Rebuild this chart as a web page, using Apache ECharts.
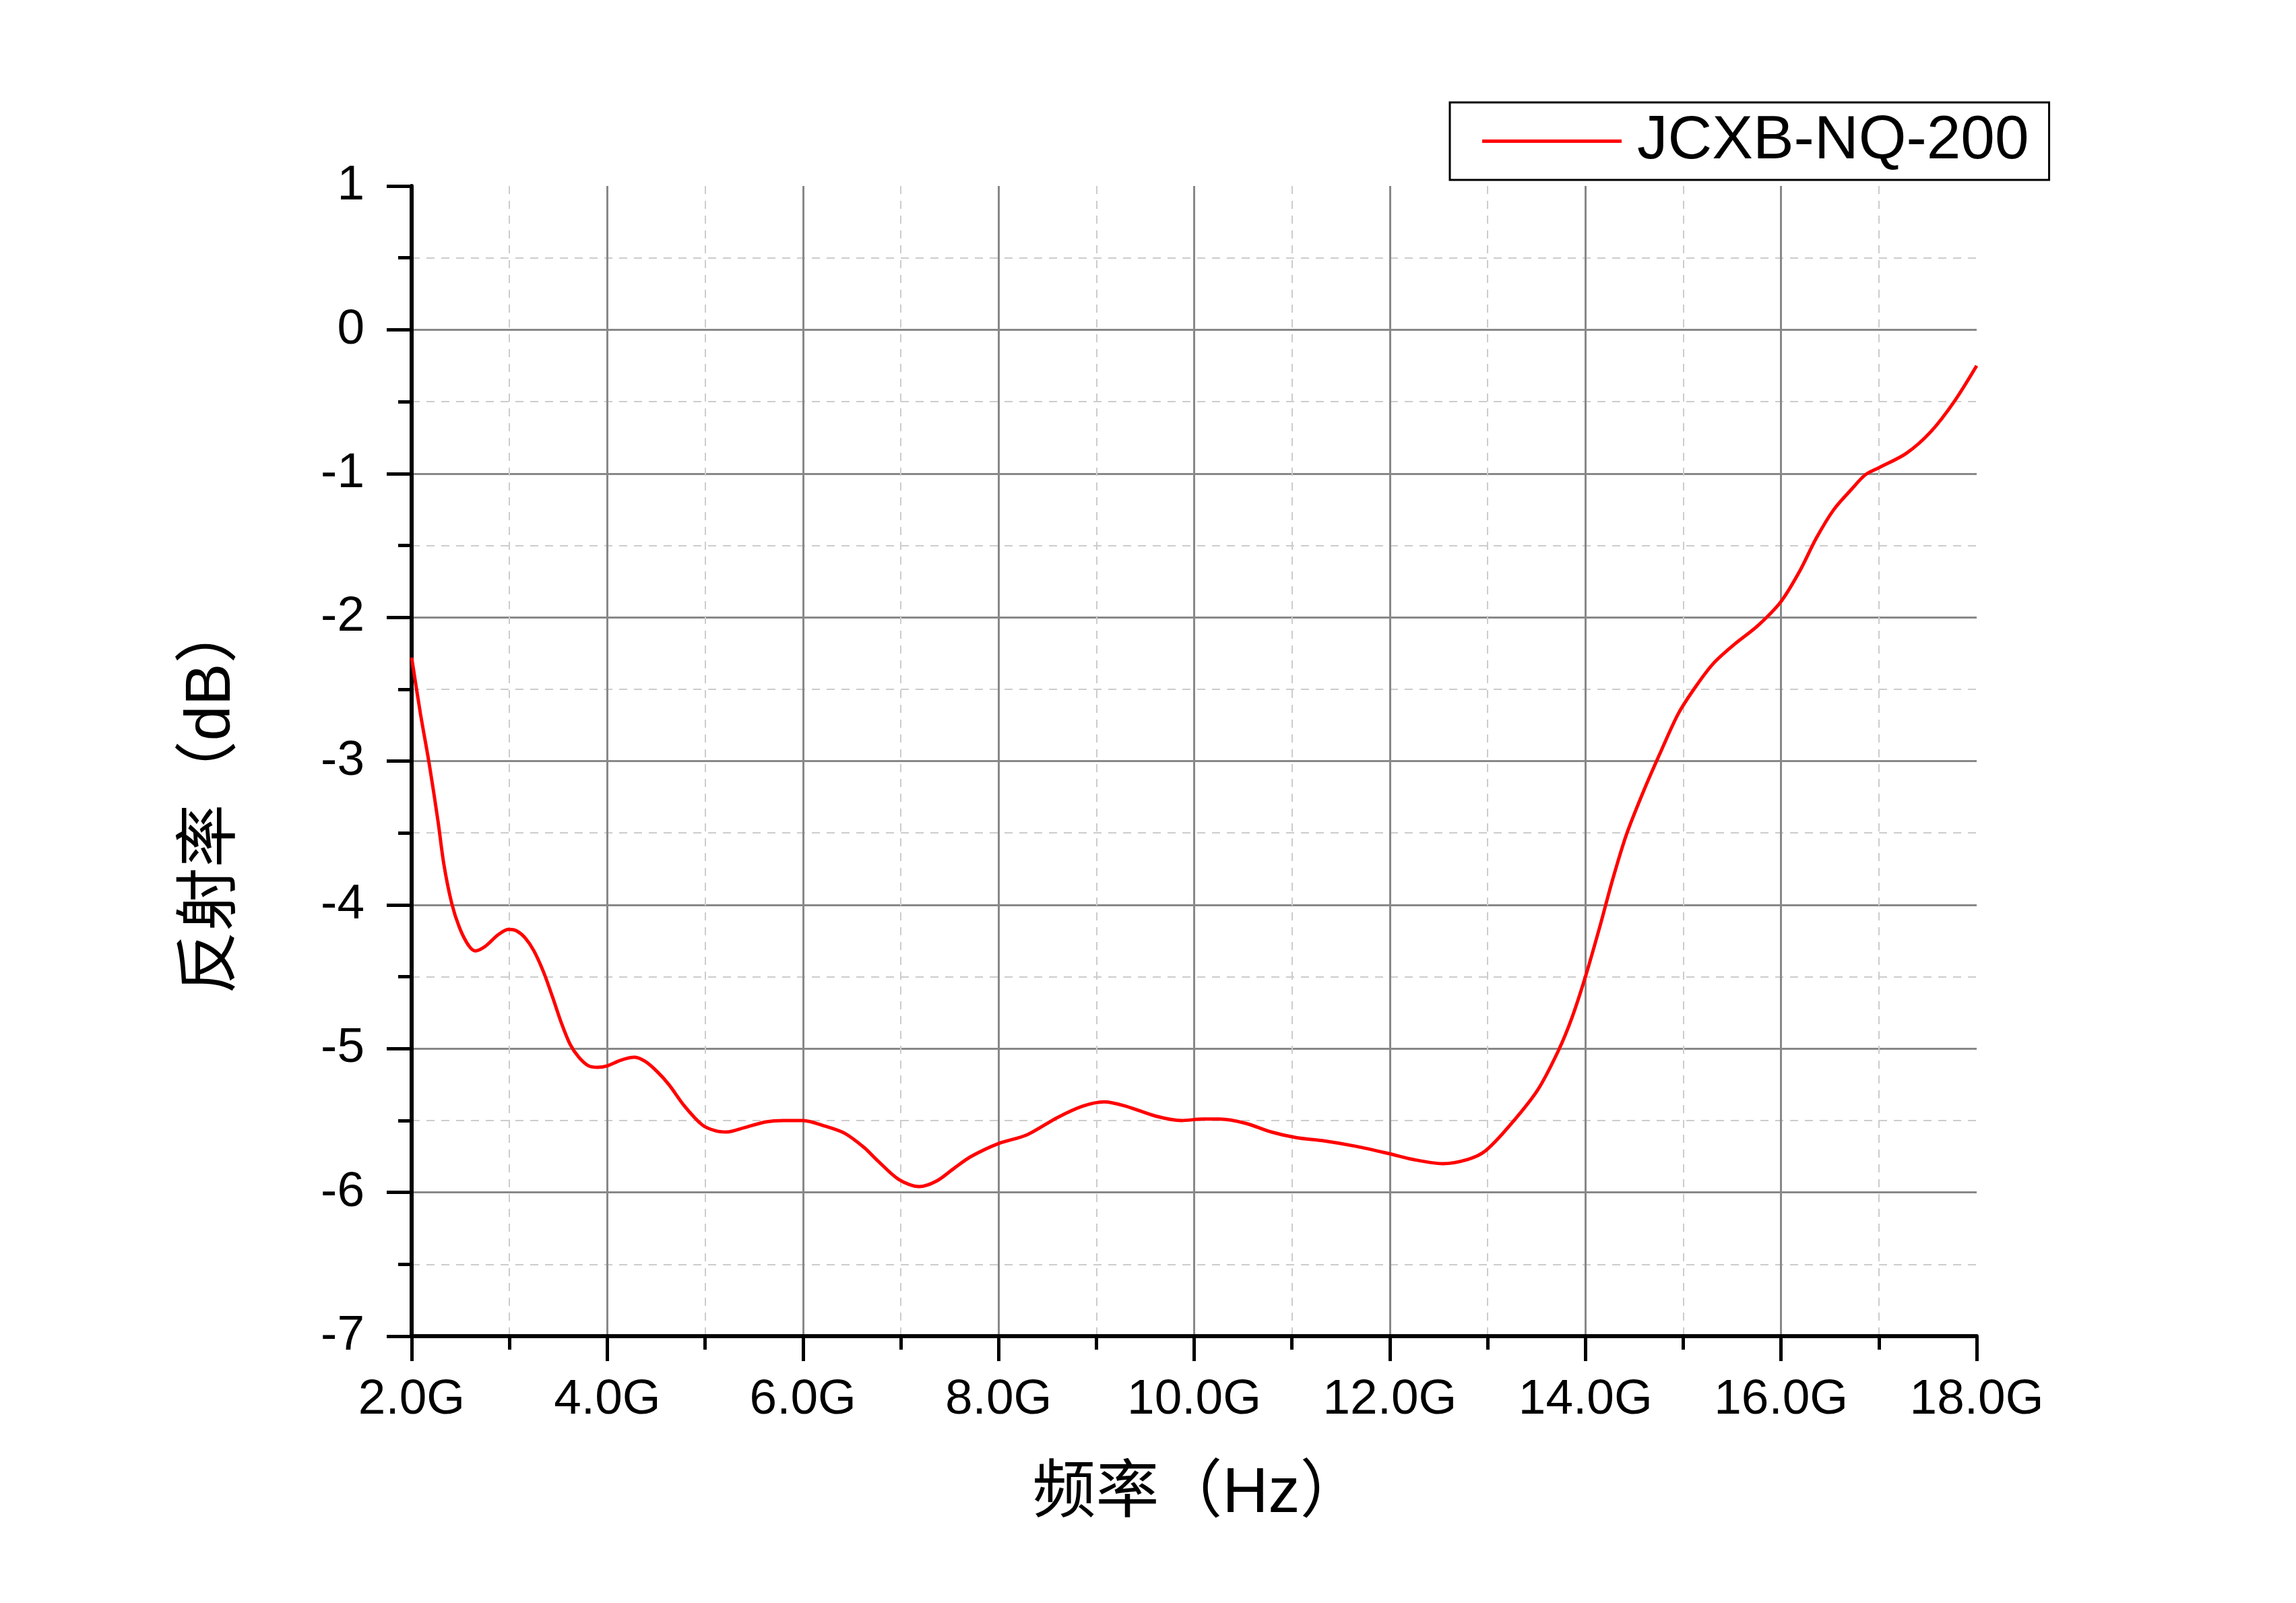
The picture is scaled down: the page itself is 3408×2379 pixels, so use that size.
<!DOCTYPE html>
<html>
<head>
<meta charset="utf-8">
<script src="https://cdn.jsdelivr.net/npm/echarts@6/dist/echarts.min.js"></script>
<style>
html,body{margin:0;padding:0;background:#fff;}
#chart{width:3408px;height:2379px;}
</style>
</head>
<body>
<div id="chart"></div>
<script>
// Frequency (GHz)
const freq = [2.00,2.09,2.18,2.27,2.33,2.41,2.49,2.58,2.65,2.75,2.88,2.99,3.07,3.16,3.25,3.35,3.44,3.53,3.62,3.71,3.81,3.90,4.00,4.14,4.28,4.39,4.51,4.63,4.79,4.97,5.10,5.22,5.40,5.62,5.80,6.00,6.23,6.43,6.63,6.75,6.98,7.19,7.37,7.55,7.72,8.00,8.29,8.60,8.86,9.08,9.30,9.61,9.87,10.09,10.26,10.53,10.79,11.05,11.31,11.66,11.99,12.23,12.54,12.80,12.98,13.22,13.51,13.72,13.86,14.00,14.14,14.28,14.42,14.60,14.78,14.95,15.13,15.31,15.52,15.76,16.00,16.19,16.36,16.54,16.72,16.86,17.00,17.28,17.53,17.77,18.00];
// Reflectivity (dB)
const refl = [-2.28,-2.67,-3.02,-3.42,-3.72,-3.99,-4.16,-4.28,-4.32,-4.29,-4.21,-4.17,-4.18,-4.23,-4.32,-4.47,-4.64,-4.82,-4.97,-5.06,-5.12,-5.13,-5.12,-5.08,-5.06,-5.09,-5.16,-5.25,-5.40,-5.53,-5.57,-5.58,-5.55,-5.51,-5.50,-5.50,-5.54,-5.59,-5.69,-5.77,-5.91,-5.96,-5.92,-5.83,-5.75,-5.66,-5.60,-5.48,-5.40,-5.37,-5.40,-5.47,-5.50,-5.49,-5.49,-5.52,-5.58,-5.62,-5.64,-5.68,-5.73,-5.77,-5.80,-5.77,-5.71,-5.54,-5.29,-5.02,-4.79,-4.50,-4.17,-3.82,-3.51,-3.20,-2.92,-2.67,-2.48,-2.32,-2.19,-2.06,-1.89,-1.68,-1.45,-1.25,-1.11,-1.01,-0.96,-0.86,-0.71,-0.50,-0.25];
const seriesName = 'JCXB-NQ-200';
const xTitle = '频率（Hz）';
const yTitle = '反射率（dB）';

const latin = '"Liberation Sans", Arial, sans-serif';
const cjk = '"Liberation Sans", "Noto Sans CJK SC", sans-serif';

const chart = echarts.init(document.getElementById('chart'), null, {renderer: 'canvas'});
const data = freq.map((f, i) => [f, refl[i]]);

chart.setOption({
  animation: false,
  backgroundColor: '#fff',
  grid: {left: 611, top: 276, right: 474, bottom: 396, containLabel: false},
  legend: {
    show: true,
    left: 2152, top: 152,
    orient: 'horizontal',
    borderColor: '#000', borderWidth: 3,
    padding: [12, 30, 12, 48],
    icon: 'rect',
    itemWidth: 207, itemHeight: 5,
    textStyle: {fontFamily: latin, fontSize: 91, color: '#000', padding: [0, 0, 0, 18]},
    data: [seriesName]
  },
  xAxis: {
    type: 'value', min: 2, max: 18, interval: 2,
    axisLine: {show: true, onZero: false, lineStyle: {color: '#000', width: 6}},
    axisTick: {show: true, inside: false, length: 37, lineStyle: {color: '#000', width: 5}},
    minorTick: {show: true, splitNumber: 2, length: 20, lineStyle: {color: '#000', width: 5}},
    axisLabel: {margin: 58, fontFamily: latin, fontSize: 73, color: '#000',
      formatter: v => v.toFixed(1) + 'G'},
    splitLine: {show: true, showMinLine: false, showMaxLine: false, lineStyle: {color: '#888', width: 3}},
    minorSplitLine: {show: true, lineStyle: {color: '#cccccc', width: 2, type: [12, 10]}}
  },
  yAxis: {
    type: 'value', min: -7, max: 1, interval: 1,
    axisLine: {show: true, onZero: false, lineStyle: {color: '#000', width: 6}},
    axisTick: {show: true, inside: false, length: 37, lineStyle: {color: '#000', width: 5}},
    minorTick: {show: true, splitNumber: 2, length: 20, lineStyle: {color: '#000', width: 5}},
    axisLabel: {margin: 70, fontFamily: latin, fontSize: 73, color: '#000'},
    splitLine: {show: true, showMinLine: false, showMaxLine: false, lineStyle: {color: '#888', width: 3}},
    minorSplitLine: {show: true, lineStyle: {color: '#cccccc', width: 2, type: [12, 10]}}
  },
  series: [{
    name: seriesName,
    type: 'line',
    data: data,
    smooth: 0.3,
    showSymbol: false,
    symbol: 'none',
    lineStyle: {color: '#ff0000', width: 5},
    itemStyle: {color: '#ff0000'}
  }],
  graphic: [
    {type: 'text', x: 1778, y: 2218,
     style: {text: xTitle, font: '94px ' + cjk, fill: '#000', align: 'center', verticalAlign: 'middle'}},
    {type: 'text', x: 315, y: 1183, rotation: Math.PI / 2,
     style: {text: yTitle, font: '94px ' + cjk, fill: '#000', align: 'center', verticalAlign: 'middle'}}
  ]
});
</script>
</body>
</html>
